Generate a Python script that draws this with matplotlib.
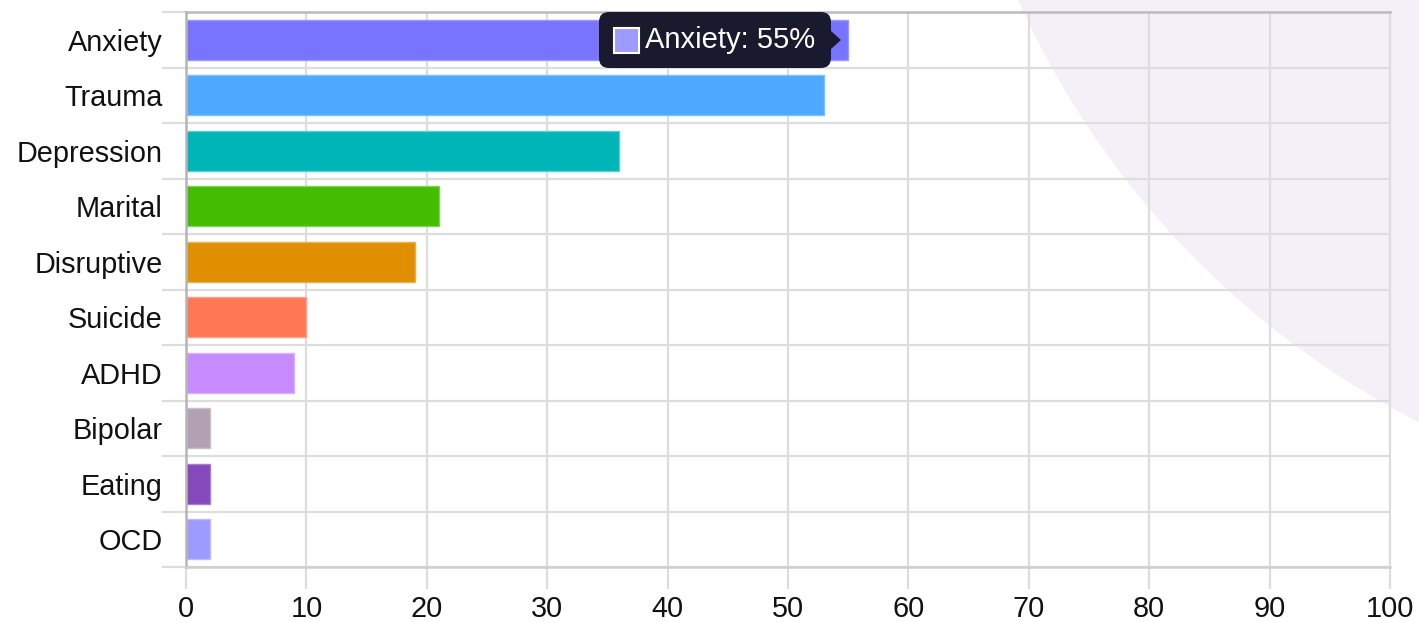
import matplotlib
matplotlib.use("Agg")
import matplotlib.pyplot as plt
from matplotlib.patches import Circle, FancyBboxPatch, Polygon, Rectangle
from matplotlib.transforms import IdentityTransform

categories = ["Anxiety", "Trauma", "Depression", "Marital", "Disruptive",
              "Suicide", "ADHD", "Bipolar", "Eating", "OCD"]
values = [55, 53, 36, 21, 19, 10, 9, 2, 2, 2]
colors = ["#7874FF", "#4DA9FF", "#00B5B8", "#44BC00", "#E08F00",
          "#FF7856", "#C78AFF", "#B3A1B3", "#8649BC", "#9D9BFF"]
edge_colors = ["#9A98FF", "#7CC0FF", "#5CCCCE", "#7ED255", "#EAB055",
               "#FFA08A", "#D8AFFF", "#CBBFCB", "#A87ED0", "#BDBBFF"]
xticks = [0, 10, 20, 30, 40, 50, 60, 70, 80, 90, 100]
tooltip_label = "Anxiety: 55%"

W, H = 1419, 622
fig = plt.figure(figsize=(W / 100, H / 100), dpi=100)
fig.patch.set_facecolor("white")

left, right, top, bottom = 186, 1390, 12, 567
ax = fig.add_axes([left / W, (H - bottom) / H, (right - left) / W, (bottom - top) / H])
ax.patch.set_visible(False)

# decorative background circle, in display pixels
ax.add_patch(Circle((1817, H + 357), 875, transform=IdentityTransform(),
                    facecolor="#F5EFF7", edgecolor="none", clip_on=False, zorder=0))

n = len(categories)
ypos = list(range(n))
ax.barh(ypos, values, height=0.72, color=colors, edgecolor=edge_colors,
        linewidth=1, zorder=3)

ax.set_xlim(0, 100)
ax.set_ylim(n - 0.5, -0.5)
ax.set_xticks(xticks)
ax.set_xticklabels([str(t) for t in xticks])
ax.set_yticks(ypos)
ax.set_yticklabels(categories)

font = "Liberation Sans"
for lab in ax.get_xticklabels() + ax.get_yticklabels():
    lab.set_fontfamily(font)
    lab.set_fontsize(20.8)
    lab.set_color("#111111")

grid_c = "#DDDDDD"
for t in xticks[1:]:
    ax.axvline(t, color=grid_c, lw=1.6, zorder=1)
for b in range(n + 1):
    ax.axhline(b - 0.5, color=grid_c, lw=1.6, zorder=1)

ax.tick_params(axis="x", length=16, width=1.6, color=grid_c, pad=4)
ax.tick_params(axis="y", length=0, pad=17)
for b in range(n + 1):
    ax.plot([-1.9, 0], [b - 0.5, b - 0.5], color=grid_c, lw=1.6,
            clip_on=False, zorder=1)

ax.spines["left"].set_color("#B5B5B5")
ax.spines["left"].set_linewidth(1.8)
ax.spines["top"].set_color("#BBBBBB")
ax.spines["top"].set_linewidth(1.8)
ax.spines["bottom"].set_color("#CFCFCF")
ax.spines["bottom"].set_linewidth(1.8)
ax.spines["right"].set_color(grid_c)
ax.spines["right"].set_linewidth(1.6)
for s in ax.spines.values():
    s.set_zorder(4)

# tooltip (figure pixel coordinates)
tip_c = "#1A1A2E"
tx0, ty0, tw, th = 599, H - 68, 232, 56
box = FancyBboxPatch((tx0 + 10, ty0 + 10), tw - 20, th - 20,
                     boxstyle="round,pad=10", transform=None,
                     facecolor=tip_c, edgecolor="none", zorder=10)
fig.patches.append(box)
arrow = Polygon([(tx0 + tw, ty0 + th / 2 + 9), (tx0 + tw + 10, ty0 + th / 2),
                 (tx0 + tw, ty0 + th / 2 - 9)], closed=True, transform=None,
                facecolor=tip_c, edgecolor="none", zorder=10)
fig.patches.append(arrow)
sq = Rectangle((614, H - 53), 25, 25, transform=None, facecolor=colors[9],
               edgecolor="white", linewidth=1.5, zorder=11)
fig.patches.append(sq)
fig.text(645 / W, (H - 40) / H, tooltip_label, color="white",
         fontfamily=font, fontsize=21, va="center", ha="left", zorder=12)

fig.savefig("out.png", dpi=100)
